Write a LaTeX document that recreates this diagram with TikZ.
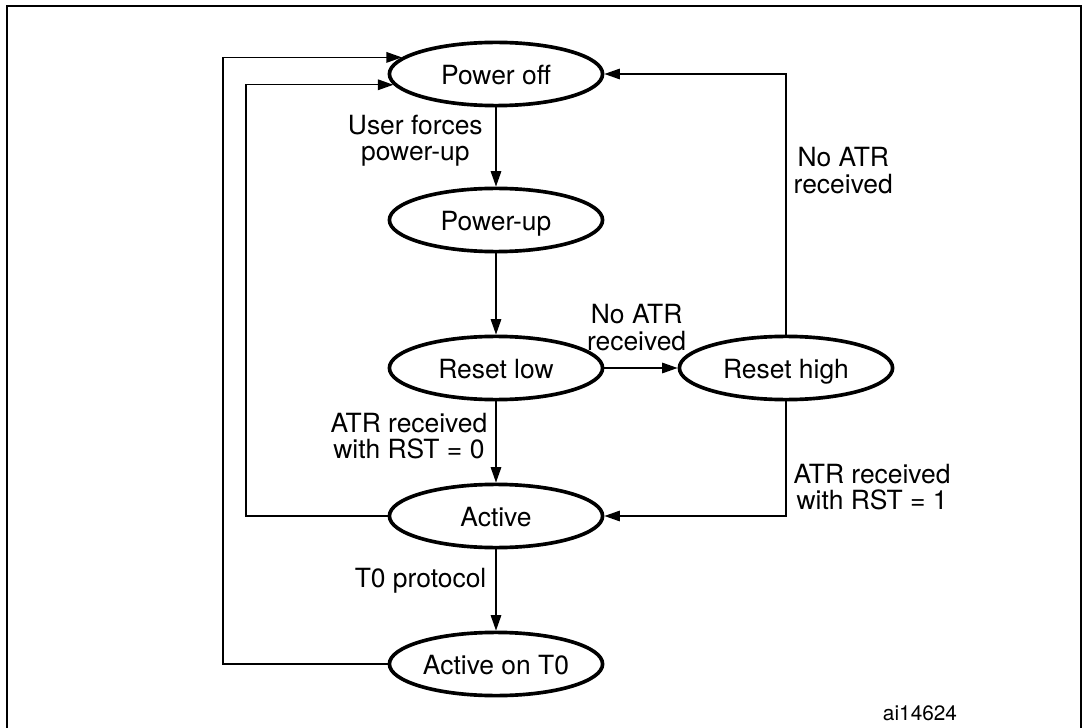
\documentclass[tikz,border=0pt]{standalone}
\usepackage{fontspec}
\setmainfont{TeX Gyre Heros}
\usetikzlibrary{arrows.meta,shapes.geometric}

\begin{document}
\begin{tikzpicture}[
  phase/.style={ellipse, draw, line width=2.6pt, inner sep=0pt,
    minimum width=5.33cm, minimum height=1.58cm,
    text height=15.5pt, text depth=0pt,
    font=\fontsize{18.8}{18.8}\selectfont},
  cond/.style={align=center, inner sep=0pt,
    font=\fontsize{18.8}{18.8}\selectfont},
  flow/.style={line width=1pt, -{Triangle[length=11pt,width=7.5pt]}}
]
\useasboundingbox (0,0) rectangle (27.05,18.175);

% frame
\draw[line width=1.3pt] (0.175,-1) rectangle (27.03,18.025);

% states
\node[phase] (poweroff)  at (12.4,16.325) {Power off};
\node[phase] (powerup)   at (12.4,12.675) {Power-up};
\node[phase] (resetlow)  at (12.4,8.975)  {Reset low};
\node[phase] (resethigh) at (19.65,8.975) {Reset high};
\node[phase] (active)    at (12.4,5.275)  {Active};
\node[phase] (activet0)  at (12.4,1.575)  {Active on T0};

% main column
\draw[flow] (poweroff) --
  node[cond, left=9pt, pos=0.42] {User forces\\power-up} (powerup);
\draw[flow] (powerup) -- (resetlow);
\draw[flow] (resetlow) --
  node[cond, left=5.7pt, pos=0.425] {ATR received\\with RST = 0} (active);
\draw[flow] (active) --
  node[cond, left=6.4pt, pos=0.38] {T0 protocol} (activet0);

% reset high branch
\draw[flow] (resetlow) --
  node[cond, above=12pt, pos=0.44] {No ATR\\received} (resethigh);
\draw[flow] (resethigh.north) |-
  node[cond, right=5pt, pos=0.315] {No ATR\\received} (poweroff.east);
\draw[flow] (resethigh.south) |-
  node[cond, right=5pt, pos=0.374] {ATR received\\with RST = 1} (active.east);

% back to power off
\draw[flow] (activet0.west) -- ++(-4.11,0) |- (poweroff.170.5);
\draw[flow] (active.west) -- ++(-3.54,0) |- (poweroff.186.1);

% figure id
\node[font=\fontsize{14.8}{14.8}\selectfont] (figid) at (23.0,0.35) {ai14624};
\end{tikzpicture}
\end{document}
